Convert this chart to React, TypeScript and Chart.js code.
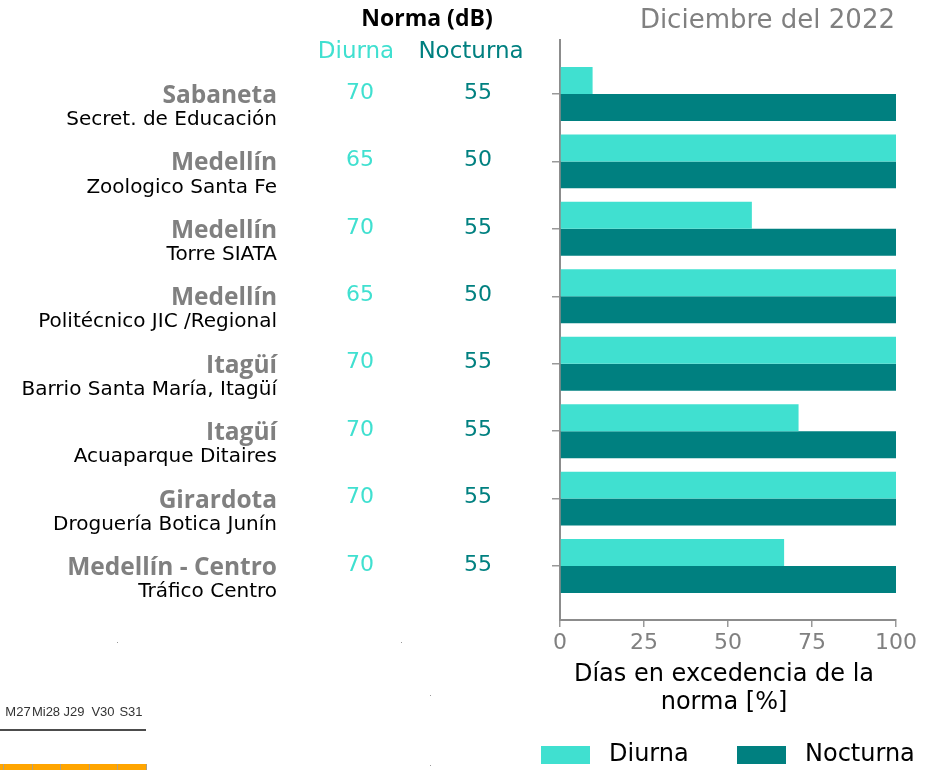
import React, { useEffect, useRef } from 'react';
import { Chart, registerables } from 'chart.js';

Chart.register(...registerables);

const sites = ['Sabaneta', 'Medellín', 'Medellín', 'Medellín', 'Itagüí', 'Itagüí', 'Girardota', 'Medellín - Centro'];
const stations = [
  'Secret. de Educación',
  'Zoologico Santa Fe',
  'Torre SIATA',
  'Politécnico JIC /Regional',
  'Barrio Santa María, Itagüí',
  'Acuaparque Ditaires',
  'Droguería Botica Junín',
  'Tráfico Centro',
];
const normaDiurna = [70, 65, 70, 65, 70, 70, 70, 70];
const normaNocturna = [55, 50, 55, 50, 55, 55, 55, 55];
const diurnaPct = [9.7, 100, 57.1, 100, 100, 71, 100, 66.7];
const nocturnaPct = [100, 100, 100, 100, 100, 100, 100, 100];
const dayLabels = ['M27', 'Mi28', 'J29', 'V30', 'S31'];
const xTitle = ['Días en excedencia de la', 'norma [%]'];

const TURQ = '#40E0D0';
const TEAL = '#008080';
const GRAY = '#808080';
const AXIS = '#8c8c8c';

const textPlugin = {
  id: 'textPlugin',
  afterDraw(chart: any) {
    const ctx = chart.ctx as CanvasRenderingContext2D;
    const y = chart.scales.y;
    ctx.save();
    ctx.textBaseline = 'middle';

    // Title
    ctx.font = '26px "DejaVu Sans"';
    ctx.fillStyle = GRAY;
    ctx.textAlign = 'right';
    ctx.fillText('Diciembre del 2022', 895, 21);

    // Header
    ctx.textAlign = 'center';
    ctx.font = 'bold 23px "Open Sans"';
    ctx.fillStyle = '#000';
    ctx.fillText('Norma (dB)', 427, 19);
    ctx.font = '23px "DejaVu Sans"';
    ctx.fillStyle = TURQ;
    ctx.fillText('Diurna', 356, 52);
    ctx.fillStyle = TEAL;
    ctx.fillText('Nocturna', 471, 52);

    // Rows
    sites.forEach((s, i) => {
      const py = y.getPixelForValue(i);
      ctx.textAlign = 'right';
      ctx.font = 'bold 24.5px "Open Sans"';
      ctx.fillStyle = GRAY;
      ctx.fillText(s, 277, py + 2);
      ctx.font = '20px "DejaVu Sans"';
      ctx.fillStyle = '#000';
      ctx.fillText(stations[i], 277, py + 26);
      ctx.textAlign = 'center';
      ctx.font = '22px "DejaVu Sans"';
      ctx.fillStyle = TURQ;
      ctx.fillText(String(normaDiurna[i]), 360, py - 1);
      ctx.fillStyle = TEAL;
      ctx.fillText(String(normaNocturna[i]), 478, py - 1);
    });

    // X axis title
    ctx.textAlign = 'center';
    ctx.font = '24px "DejaVu Sans"';
    ctx.fillStyle = '#000';
    xTitle.forEach((t, i) => ctx.fillText(t, 724, 675 + i * 28));

    // Legend
    const legendX = [541, 737];
    chart.data.datasets.forEach((ds: any, k: number) => {
      const lx = legendX[k];
      ctx.fillStyle = ds.backgroundColor;
      ctx.fillRect(lx, 746, 49, 18);
      ctx.fillStyle = '#000';
      ctx.textAlign = 'left';
      ctx.font = '24px "DejaVu Sans"';
      ctx.fillText(ds.label, lx + 68, 755);
    });

    // Residual fragment bottom-left
    const dayX = [18, 46, 74, 103, 131];
    ctx.font = '13px "Liberation Sans Narrow", "Liberation Sans"';
    ctx.fillStyle = '#333';
    ctx.textAlign = 'center';
    dayLabels.forEach((d, i) => ctx.fillText(d, dayX[i], 712));
    ctx.strokeStyle = '#111';
    ctx.lineWidth = 1.5;
    ctx.beginPath();
    ctx.moveTo(0, 730);
    ctx.lineTo(146, 730);
    ctx.stroke();
    ctx.fillStyle = '#FFA500';
    ctx.fillRect(0, 764, 146, 6);
    ctx.strokeStyle = '#b0a080';
    ctx.lineWidth = 1;
    [3, 32, 60, 89, 117, 146].forEach((vx) => {
      ctx.beginPath();
      ctx.moveTo(vx + 0.5, 764);
      ctx.lineTo(vx + 0.5, 770);
      ctx.stroke();
    });
    ctx.fillStyle = '#999';
    [[117, 642], [401, 642], [430, 695], [430, 765]].forEach(([dx, dy]) => ctx.fillRect(dx, dy, 1, 1));

    ctx.restore();
  },
};

export default function App() {
  const ref = useRef<HTMLCanvasElement | null>(null);
  useEffect(() => {
    if (!ref.current) return;
    const chart = new Chart(ref.current, {
      type: 'bar',
      data: {
        datasets: [
          {
            label: 'Diurna',
            data: diurnaPct.map((v, i) => ({ x: v, y: i })),
            backgroundColor: TURQ,
            borderWidth: 0,
            categoryPercentage: 0.8,
            barPercentage: 1.0,
          },
          {
            label: 'Nocturna',
            data: nocturnaPct.map((v, i) => ({ x: v, y: i })),
            backgroundColor: TEAL,
            borderWidth: 0,
            categoryPercentage: 0.8,
            barPercentage: 1.0,
          },
        ],
      },
      options: {
        indexAxis: 'y',
        responsive: false,
        animation: false,
        layout: { padding: { left: 552, right: 34, top: 40, bottom: 53 } },
        plugins: {
          legend: { display: false },
          tooltip: { enabled: false },
        },
        scales: {
          x: {
            type: 'linear',
            position: 'bottom',
            min: 0,
            max: 100,
            ticks: {
              stepSize: 25,
              color: GRAY,
              font: { family: 'DejaVu Sans', size: 22 },
              padding: 3,
            },
            grid: { drawOnChartArea: false, drawTicks: true, tickLength: 7, color: '#999', lineWidth: 1.5 },
            border: { display: true, color: AXIS, width: 2 },
            title: { display: false },
            afterFit: (s: any) => {
              s.height = 97;
            },
          },
          y: {
            type: 'linear',
            position: 'left',
            min: -0.8,
            max: 7.8,
            reverse: true,
            offset: false,
            afterBuildTicks: (s: any) => {
              s.ticks = sites.map((_, i) => ({ value: i }));
            },
            ticks: { display: false },
            grid: {
              offset: false,
              drawOnChartArea: false,
              drawTicks: true,
              tickLength: 8,
              color: '#999',
              lineWidth: 1.5,
            },
            border: { display: true, color: AXIS, width: 2 },
            afterFit: (s: any) => {
              s.width = 8;
            },
          },
        },
      },
      plugins: [textPlugin],
    } as any);
    return () => chart.destroy();
  }, []);
  return (
    <div style={{ position: 'fixed', left: 0, top: 0, width: 930, height: 770 }}>
      <canvas ref={ref} width={930} height={770} style={{ width: 930, height: 770 }} />
    </div>
  );
}
